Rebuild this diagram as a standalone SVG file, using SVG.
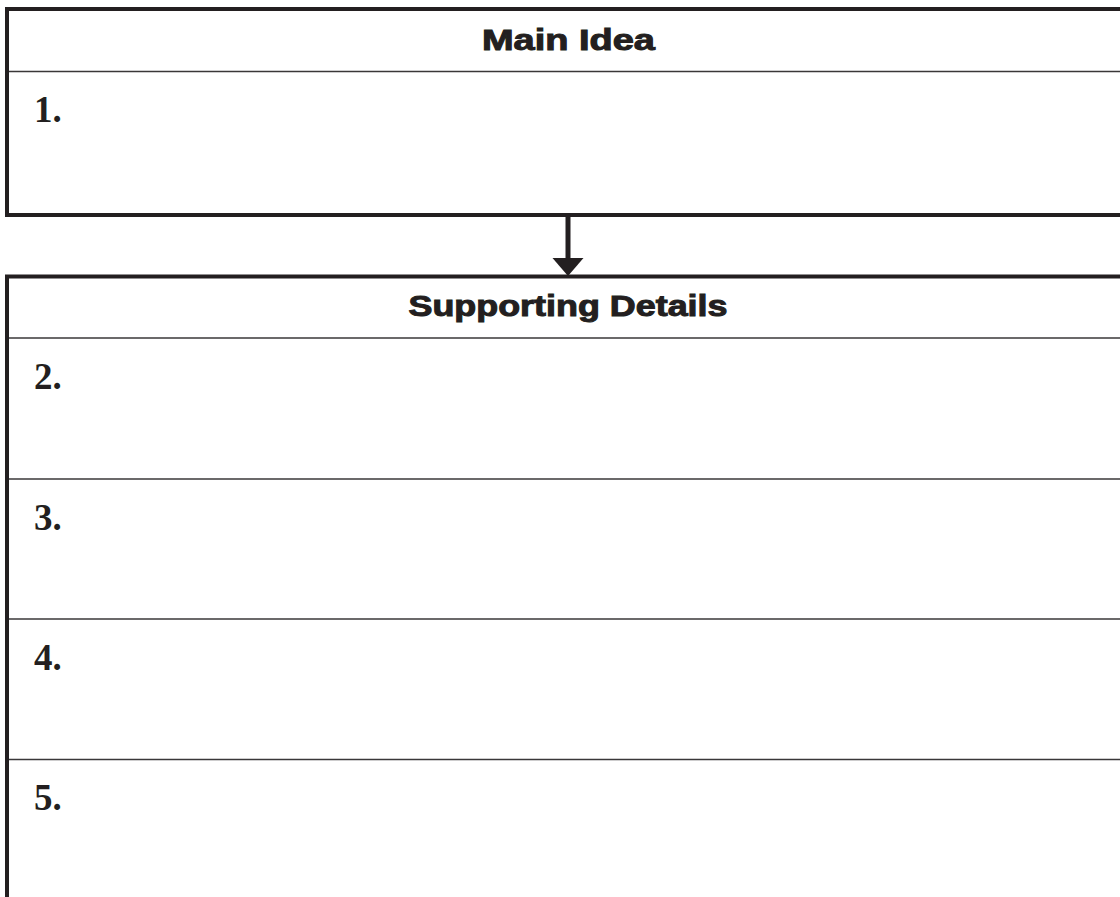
<svg xmlns="http://www.w3.org/2000/svg" width="1120" height="897" viewBox="0 0 1120 897">
<style>
.frame{fill:none;stroke:#231f20;stroke-width:4}
.sep{stroke:#3a3738;stroke-width:1.6}
.head{font-family:"Liberation Sans",Arial,sans-serif;font-weight:bold;font-size:29px;fill:#231f20;stroke:#231f20;stroke-width:1;text-anchor:middle}
.num{font-family:"Liberation Serif","Times New Roman",serif;font-weight:bold;font-size:37px;fill:#231f20}
</style>
<rect width="1120" height="897" fill="#ffffff"/>
<g id="main-idea">
<rect class="frame" x="7" y="9" width="1130" height="206"/>
<line class="sep" x1="9" y1="71.5" x2="1120" y2="71.5"/>
<text class="head" x="568.5" y="49.5" textLength="173" lengthAdjust="spacingAndGlyphs">Main Idea</text>
<text class="num" x="34" y="121.5">1.</text>
</g>
<g id="connectors">
<line x1="568" y1="215" x2="568" y2="261" stroke="#231f20" stroke-width="5"/>
<polygon points="552.5,258 583.5,258 568,276" fill="#231f20"/>
</g>
<g id="supporting-details">
<rect class="frame" x="7" y="276.5" width="1130" height="640"/>
<line class="sep" x1="9" y1="338" x2="1120" y2="338"/>
<text class="head" x="568" y="315.5" textLength="319" lengthAdjust="spacingAndGlyphs">Supporting Details</text>
</g>
<g id="detail-2">
<text class="num" x="34" y="389">2.</text>
<line class="sep" x1="9" y1="479" x2="1120" y2="479"/>
</g>
<g id="detail-3">
<text class="num" x="34" y="529.5">3.</text>
<line class="sep" x1="9" y1="619" x2="1120" y2="619"/>
</g>
<g id="detail-4">
<text class="num" x="34" y="669.5">4.</text>
<line class="sep" x1="9" y1="759.5" x2="1120" y2="759.5"/>
</g>
<g id="detail-5">
<text class="num" x="34" y="810">5.</text>
</g>
</svg>
